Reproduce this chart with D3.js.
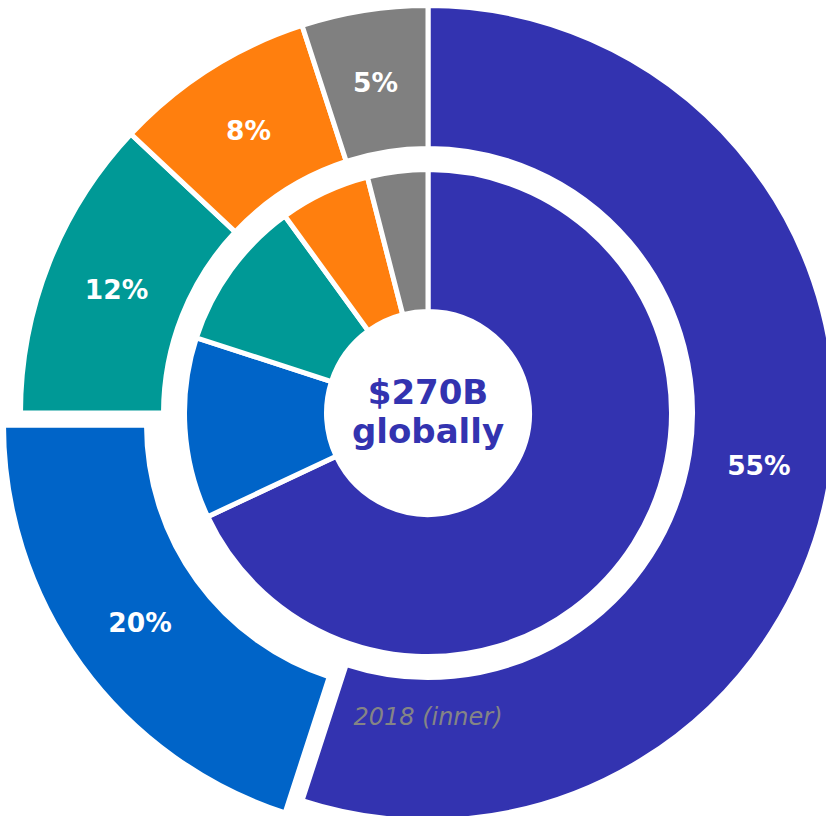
<!DOCTYPE html>
<html>
<head>
<meta charset="utf-8">
<script src="https://cdn.jsdelivr.net/npm/d3@7"></script>
<style>
    html, body { margin: 0; padding: 0; background: #fff; overflow: hidden; }
    svg { display: block; font-family: "DejaVu Sans", sans-serif; }
</style>
</head>
<body>
<div id="chart"></div>
<script>
// data
const categories = ["Segment 1", "Segment 2", "Segment 3", "Segment 4", "Segment 5"]
const outerShare = [55, 20, 12, 8, 5]     // outer ring, percent
const innerShare = [68, 12, 10, 6, 4]     // 2018 (inner), percent
const outerLabels = ["55%", "20%", "12%", "8%", "5%"]
const centerLines = ["$270B", "globally"]
const innerNote = "2018 (inner)"

const colors = ["#3333b0", "#0064c8", "#009996", "#ff7f0e", "#808080"]

let width = 826, height = 816
let cx = 428, cy = 413
let explodeIdx = 1, explodeBy = 21

let svg = d3.select("#chart").append("svg")
    .attr("width", width)
    .attr("height", height)

let g = svg.append("g")
    .attr("transform", `translate(${cx}, ${cy})`)

let pie = d3.pie().sort(null).value(d => d.v)

let outerData = pie(categories.map((c, i) => ({cat: c, v: outerShare[i], i: i})))
let innerData = pie(categories.map((c, i) => ({cat: c, v: innerShare[i], i: i})))

let outerArc = d3.arc().innerRadius(264.5).outerRadius(407.5)
let innerArc = d3.arc().innerRadius(101.5).outerRadius(243.5)
let labelArc = d3.arc().innerRadius(335).outerRadius(335)

function shift(d) {
    if (d.data.i !== explodeIdx) return [0, 0]
    let a = (d.startAngle + d.endAngle) / 2
    return [Math.sin(a) * explodeBy, -Math.cos(a) * explodeBy]
}

// outer ring
g.append("g").selectAll("path")
    .data(outerData)
    .join("path")
    .attr("d", outerArc)
    .attr("transform", d => `translate(${shift(d)})`)
    .attr("fill", d => colors[d.data.i])
    .attr("stroke", "#fff")
    .attr("stroke-width", 5)
    .attr("stroke-linejoin", "miter")

// inner ring
g.append("g").selectAll("path")
    .data(innerData)
    .join("path")
    .attr("d", innerArc)
    .attr("fill", d => colors[d.data.i])
    .attr("stroke", "#fff")
    .attr("stroke-width", 5)
    .attr("stroke-linejoin", "miter")

// percent labels on outer ring
g.append("g").selectAll("text")
    .data(outerData)
    .join("text")
    .attr("transform", d => {
        let c = labelArc.centroid(d)
        let s = shift(d)
        return `translate(${c[0] + s[0]}, ${c[1] + s[1]})`
    })
    .attr("text-anchor", "middle")
    .attr("dominant-baseline", "central")
    .attr("fill", "#fff")
    .attr("font-weight", "bold")
    .attr("font-size", "26.5px")
    .text((d, i) => outerLabels[i])

// centre text
g.append("g").selectAll("text")
    .data(centerLines)
    .join("text")
    .attr("x", 0)
    .attr("y", (d, i) => -21 + i * 39)
    .attr("text-anchor", "middle")
    .attr("dominant-baseline", "central")
    .attr("fill", colors[0])
    .attr("font-weight", "bold")
    .attr("font-size", "34px")
    .text(d => d)

g.append("text")
    .attr("x", 0)
    .attr("y", 312)
    .attr("text-anchor", "middle")
    .attr("fill", "#858585")
    .attr("font-style", "italic")
    .attr("font-size", "24px")
    .text(innerNote)
</script>
</body>
</html>
